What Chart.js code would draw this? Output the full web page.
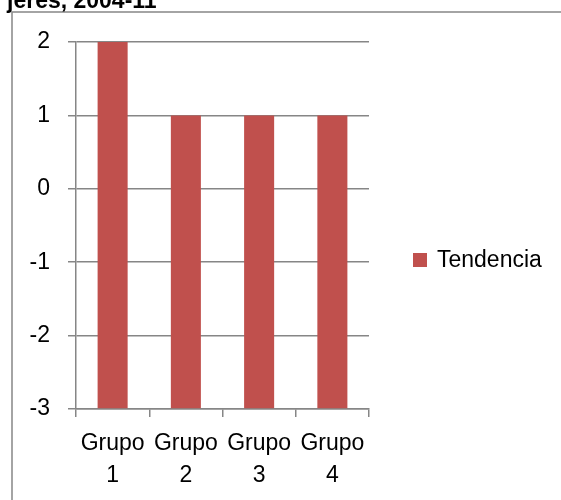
<!DOCTYPE html>
<html>
<head>
<meta charset="utf-8">
<script src="https://cdn.jsdelivr.net/npm/chart.js@4"></script>
<style>
  html, body { margin: 0; padding: 0; background: #fff; }
  #wrap { width: 561px; height: 500px; }
</style>
</head>
<body>
<div id="wrap"><canvas id="tendChart" width="561" height="500"></canvas></div>
<script>
// datos
const categorias = [['Grupo', '1'], ['Grupo', '2'], ['Grupo', '3'], ['Grupo', '4']];
const tendencia = [2, 1, 1, 1];
const ejeMin = -3;
const ejeMax = 2;
const titulo = 'jeres, 2004-11';
const serie = 'Tendencia';

const gris = '#868686';
const rojo = '#C0504D';
const fuente = "'Liberation Sans', Arial, sans-serif";

// marco y titulo cortado
const marco = {
    id: 'marco',
    beforeDraw(chart) {
        const c = chart.ctx;
        c.save();
        c.fillStyle = '#fff';
        c.fillRect(0, 0, chart.width, chart.height);
        c.strokeStyle = gris;
        c.lineWidth = 1.5;
        c.beginPath();
        c.moveTo(12, chart.height);
        c.lineTo(12, 12);
        c.lineTo(chart.width, 12);
        c.stroke();
        c.fillStyle = '#000';
        c.font = 'bold 23px ' + fuente;
        c.textBaseline = 'alphabetic';
        c.fillText(titulo, 7, 8);
        c.restore();
    }
};

// leyenda a mano
const leyenda = {
    id: 'leyenda',
    afterDraw(chart) {
        const c = chart.ctx;
        const ds = chart.data.datasets[0];
        c.save();
        c.fillStyle = ds.backgroundColor;
        c.fillRect(413, 253, 14, 14);
        c.fillStyle = '#000';
        c.font = '23px ' + fuente;
        c.textBaseline = 'middle';
        c.fillText(ds.label, 437, 261);
        c.restore();
    }
};

new Chart(document.getElementById('tendChart'), {
    type: 'bar',
    data: {
        labels: categorias,
        datasets: [{
            label: serie,
            data: tendencia,
            base: ejeMin,
            backgroundColor: rojo,
            borderWidth: 0,
            categoryPercentage: 1,
            barPercentage: 0.41
        }]
    },
    options: {
        responsive: false,
        animation: false,
        events: [],
        layout: { padding: { left: 0, top: 42, right: 192, bottom: 0 } },
        plugins: {
            legend: { display: false },
            tooltip: { enabled: false }
        },
        scales: {
            x: {
                afterFit: s => { s.height = 91; },
                grid: { drawOnChartArea: false, color: gris, tickLength: 8, lineWidth: 1.5 },
                border: { color: gris, width: 1.5 },
                ticks: {
                    color: '#000',
                    padding: 11,
                    maxRotation: 0,
                    font: { family: fuente, size: 23, lineHeight: 1.39 }
                }
            },
            y: {
                min: ejeMin,
                max: ejeMax,
                afterFit: s => { s.width = 76; },
                grid: { color: gris, tickLength: 8, lineWidth: 1.5 },
                border: { color: gris, width: 1.5 },
                ticks: {
                    stepSize: 1,
                    color: '#000',
                    padding: 18,
                    font: { family: fuente, size: 23 }
                }
            }
        }
    },
    plugins: [marco, leyenda]
});
</script>
</body>
</html>
